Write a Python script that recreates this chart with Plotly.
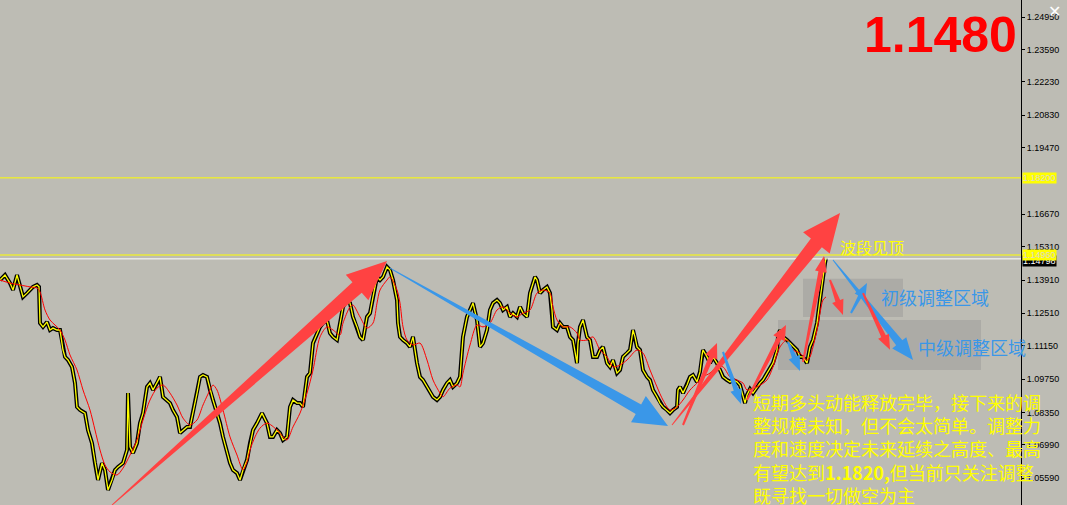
import plotly.graph_objects as go

# ---------------- data ----------------
bar_idx = [0,5,10,13,17,20,23,27,30,33,37,39,40,43,47,50,53,57,60,63,65,68,72,75,77,80,85,88,92,95,98,102,105,108,112,115,118,123,127,128,130,133,137,140,143,147,150,153,157,160,163,167,170,173,177,180,183,187,190,193,197,200,203,207,210,213,217,220,223,227,230,233,237,240,243,247,250,253,257,262,267,270,273,277,280,283,287,290,293,297,300,303,307,310,313,317,320,323,327,330,333,337,340,343,347,350,353,357,360,363,367,370,373,377,380,383,387,390,393,397,398,400,403,407,410,413,417,420,423,427,430,433,437,440,443,447,450,453,457,460,462,463,467,470,473,477,480,483,487,490,493,497,500,503,507,510,513,517,520,523,527,530,533,535,537,540,543,547,550,552,553,557,560,563,567,570,573,577,578,580,583,587,590,593,597,600,603,607,610,613,617,620,623,627,630,633,635,637,640,643,647,650,653,657,660,663,667,670,673,677,678,680,683,687,690,693,697,700,702,703,707,710,713,717,720,723,727,730,733,737,740,743,745,747,750,753,757,760,763,767,770,773,777,778,780,783,787,790,793,797,800,803,807,808,810,813,817,820,822,823,825,826]
close = [1.1391,1.1412,1.1378,1.1349,1.1412,1.1362,1.1320,1.1336,1.1349,1.1362,1.1370,1.1362,1.1210,1.1194,1.1215,1.1181,1.1189,1.1181,1.1181,1.1097,1.1068,1.1055,1.1026,1.0958,1.0858,1.0845,1.0832,1.0761,1.0706,1.0622,1.0551,1.0622,1.0593,1.0509,1.0551,1.0593,1.0606,1.0622,1.0677,1.0916,1.0690,1.0664,1.0706,1.0790,1.0832,1.0942,1.0958,1.0929,1.0958,1.0984,1.0900,1.0887,1.0874,1.0845,1.0816,1.0748,1.0761,1.0774,1.0774,1.0832,1.0916,1.0984,1.0992,1.0984,1.0929,1.0887,1.0832,1.0790,1.0732,1.0664,1.0622,1.0593,1.0580,1.0551,1.0593,1.0635,1.0706,1.0761,1.0790,1.0832,1.0790,1.0732,1.0732,1.0761,1.0748,1.0719,1.0732,1.0858,1.0887,1.0874,1.0874,1.0858,1.0984,1.1000,1.1126,1.1168,1.1194,1.1210,1.1223,1.1168,1.1152,1.1139,1.1210,1.1278,1.1307,1.1294,1.1236,1.1194,1.1152,1.1139,1.1236,1.1252,1.1320,1.1404,1.1391,1.1404,1.1446,1.1433,1.1391,1.1307,1.1210,1.1152,1.1139,1.1126,1.1110,1.1152,1.1042,1.0984,1.0971,1.0942,1.0916,1.0900,1.0887,1.0900,1.0929,1.0958,1.0971,1.0942,1.0958,1.0984,1.1097,1.1152,1.1236,1.1265,1.1294,1.1223,1.1110,1.1126,1.1181,1.1265,1.1294,1.1307,1.1294,1.1265,1.1278,1.1236,1.1252,1.1236,1.1278,1.1252,1.1236,1.1336,1.1378,1.1404,1.1391,1.1336,1.1349,1.1362,1.1336,1.1265,1.1194,1.1181,1.1210,1.1194,1.1194,1.1152,1.1139,1.1042,1.1126,1.1194,1.1223,1.1152,1.1139,1.1068,1.1068,1.1097,1.1110,1.1042,1.1026,1.1055,1.1000,1.1013,1.1068,1.1084,1.1097,1.1181,1.1152,1.1110,1.1097,1.1013,1.0984,1.0971,1.0929,1.0900,1.0874,1.0858,1.0845,1.0832,1.0845,1.0858,1.0929,1.0942,1.0916,1.0950,1.0984,1.0992,1.0963,1.1005,1.1076,1.1097,1.1068,1.1042,1.1068,1.1042,1.1013,1.0984,1.0971,1.0963,1.0971,1.0963,1.0950,1.0900,1.0874,1.0908,1.0933,1.0916,1.0942,1.0958,1.0971,1.1000,1.1026,1.1042,1.1097,1.1152,1.1181,1.1152,1.1139,1.1126,1.1110,1.1097,1.1068,1.1068,1.1042,1.1068,1.1110,1.1139,1.1210,1.1307,1.1378,1.1391,1.1462,1.1483]

ma_idx = [0,10,20,30,37,40,45,50,55,60,65,70,77,83,90,95,100,105,110,117,123,130,137,143,150,157,163,170,177,183,190,197,203,210,213,217,223,230,237,243,247,250,255,260,267,277,283,287,293,300,307,313,320,327,333,340,343,350,353,360,367,373,377,380,387,390,397,400,403,407,413,420,427,433,440,443,450,457,460,463,470,477,483,490,497,503,510,517,523,530,537,543,550,553,557,563,570,577,580,587,593,600,607,613,620,627,637,643,650,657,663,670,677,683,690,697,703,710,717,723,730,737,743,747,757,767,773,780,787,793,800,807,810,813,817,820,823,826]
ma_val = [1.1391,1.1378,1.1370,1.1362,1.1357,1.1341,1.1265,1.1223,1.1202,1.1181,1.1139,1.1076,1.1013,1.0929,1.0845,1.0761,1.0677,1.0614,1.0585,1.0572,1.0601,1.0656,1.0719,1.0803,1.0887,1.0937,1.0950,1.0916,1.0866,1.0811,1.0782,1.0803,1.0866,1.0929,1.0950,1.0929,1.0845,1.0732,1.0656,1.0593,1.0627,1.0677,1.0732,1.0769,1.0790,1.0761,1.0732,1.0719,1.0774,1.0832,1.0916,1.1013,1.1152,1.1194,1.1181,1.1160,1.1210,1.1278,1.1286,1.1236,1.1189,1.1210,1.1294,1.1349,1.1391,1.1404,1.1349,1.1294,1.1194,1.1139,1.1118,1.1126,1.1055,1.0971,1.0916,1.0900,1.0937,1.0950,1.0942,1.1000,1.1118,1.1202,1.1194,1.1210,1.1265,1.1278,1.1252,1.1236,1.1252,1.1265,1.1336,1.1349,1.1336,1.1278,1.1223,1.1194,1.1194,1.1168,1.1139,1.1139,1.1152,1.1097,1.1068,1.1026,1.1034,1.1055,1.1097,1.1084,1.1013,1.0942,1.0887,1.0845,1.0858,1.0887,1.0929,1.0958,1.0984,1.1000,1.1026,1.1026,1.0984,1.0971,1.0958,1.0929,1.0942,1.0971,1.1026,1.1110,1.1139,1.1097,1.1084,1.1055,1.1068,1.1110,1.1181,1.1252,1.1307,1.1320]

tick_vals = [1.2495,1.2359,1.2223,1.2083,1.1947,1.1667,1.1531,1.1391,1.1251,1.1115,1.0975,1.0835,1.0699,1.0559]
tick_text = ["%.5f" % v for v in tick_vals]
target_level = 1.1820
top_level = 1.1496
last_price = 1.14798
big_label = "1.1480"

# ---------------- layout constants ----------------
W, H = 1067, 505
MR = 46
X_RANGE = [0, 1021]
Y_RANGE = [1.0446, 1.2567]
BG = "#BDBCB4"
RED = "#FF4242"
BLUE = "#3A97E8"
YEL = "#FFFF00"

plot_w = W - MR
sx = plot_w / (X_RANGE[1] - X_RANGE[0])
sy = H / (Y_RANGE[1] - Y_RANGE[0])


def arrow_path(x0, p0, x1, p1, w0, w1, hw, hl):
    X0, Y0 = x0 * sx, p0 * sy
    X1, Y1 = x1 * sx, p1 * sy
    dx, dy = X1 - X0, Y1 - Y0
    L = (dx * dx + dy * dy) ** 0.5
    ux, uy = dx / L, dy / L
    nx, ny = -uy, ux
    bx, by = X1 - ux * hl, Y1 - uy * hl
    pts = [
        (X0 + nx * w0 / 2, Y0 + ny * w0 / 2),
        (bx + nx * w1 / 2, by + ny * w1 / 2),
        (bx + nx * hw / 2, by + ny * hw / 2),
        (X1, Y1),
        (bx - nx * hw / 2, by - ny * hw / 2),
        (bx - nx * w1 / 2, by - ny * w1 / 2),
        (X0 - nx * w0 / 2, Y0 - ny * w0 / 2),
    ]
    return "M " + " L ".join("%.4f,%.6f" % (X / sx, Y / sy) for X, Y in pts) + " Z"


fig = go.Figure()

# black bar body and yellow close line
fig.add_trace(go.Scatter(x=bar_idx, y=close, mode="lines",
                         line=dict(color="black", width=4), hoverinfo="skip"))
fig.add_trace(go.Scatter(x=bar_idx, y=close, mode="lines",
                         line=dict(color=YEL, width=1.3), hoverinfo="skip"))
fig.add_trace(go.Scatter(x=ma_idx, y=ma_val, mode="lines",
                         line=dict(color="#FF0000", width=1, shape="spline", smoothing=0.8),
                         hoverinfo="skip"))

shapes = []
# adjustment zones
shapes.append(dict(type="rect", xref="x", yref="y", x0=803, x1=903, y0=1.1236, y1=1.1396,
                   fillcolor="rgba(140,140,140,0.35)", line=dict(width=0), layer="below"))
shapes.append(dict(type="rect", xref="x", yref="y", x0=778, x1=981, y0=1.1013, y1=1.1223,
                   fillcolor="rgba(140,140,140,0.35)", line=dict(width=0), layer="below"))
# horizontal levels
shapes.append(dict(type="line", xref="paper", yref="y", x0=0, x1=1, y0=target_level, y1=target_level,
                   line=dict(color=YEL, width=1)))
shapes.append(dict(type="line", xref="paper", yref="y", x0=0, x1=1, y0=top_level, y1=top_level,
                   line=dict(color=YEL, width=1)))
shapes.append(dict(type="line", xref="paper", yref="y", x0=0, x1=1, y0=last_price, y1=last_price,
                   line=dict(color="white", width=1)))

# drawn arrows (bar index, price)
arrows = [
    (112, 1.0446, 387, 1.1471, 1, 14, 34, 40, RED),
    (390, 1.1441, 668, 1.0778, 1, 11, 30, 34, BLUE),
    (672, 1.0782, 840, 1.1672, 1, 14, 34, 38, RED),
    (683, 1.0782, 717, 1.1126, 2, 5, 13, 15, RED),
    (747, 1.0887, 786, 1.1202, 2, 5, 13, 15, RED),
    (803, 1.1047, 824, 1.1492, 2, 5, 12, 16, RED),
    (723, 1.1089, 741, 1.0870, 2, 5, 12, 15, BLUE),
    (788, 1.1131, 800, 1.1009, 2, 5, 12, 15, BLUE),
    (830, 1.1391, 843, 1.1244, 2, 5, 12, 15, RED),
    (833, 1.1475, 913, 1.1055, 1, 8, 18, 22, BLUE),
    (851, 1.1252, 867, 1.1378, 2, 4, 12, 15, BLUE),
    (863, 1.1336, 890, 1.1098, 2, 5, 12, 15, RED),
]
for x0, p0, x1, p1, w0, w1, hw, hl, col in arrows:
    shapes.append(dict(type="path", xref="x", yref="y", path=arrow_path(x0, p0, x1, p1, w0, w1, hw, hl),
                       fillcolor=col, line=dict(width=0)))

annotations = []
CJK = "Noto Sans CJK SC"
annotations.append(dict(x=940, y=1.2420, xref="x", yref="y", text="<b>" + big_label + "</b>",
                        showarrow=False, font=dict(family="Liberation Sans, Arial", size=50, color="#FF0000")))
annotations.append(dict(x=838, y=1.1530, xref="x", yref="y", xanchor="left", text="波段见顶",
                        showarrow=False, font=dict(family=CJK, size=16, color=YEL)))
annotations.append(dict(x=879, y=1.1320, xref="x", yref="y", xanchor="left", text="初级调整区域",
                        showarrow=False, font=dict(family=CJK, size=18, color=BLUE)))
annotations.append(dict(x=916, y=1.1110, xref="x", yref="y", xanchor="left", text="中级调整区域",
                        showarrow=False, font=dict(family=CJK, size=18, color=BLUE)))
lines = [
    "短期多头动能释放完毕，接下来的调",
    "整规模未知，但不会太简单。调整力",
    "度和速度决定未来延续之高度、最高",
    "有望达到<b>1.1820,</b>但当前只关注调整",
    "既寻找一切做空为主",
]
line_y = [1.0879, 1.0782, 1.0686, 1.0585, 1.0488]
for t, yy in zip(lines, line_y):
    annotations.append(dict(x=751, y=yy, xref="x", yref="y", xanchor="left", text=t,
                            showarrow=False, font=dict(family=CJK, size=18, color=YEL)))

# price labels on the axis
annotations.append(dict(x=1, y=last_price, xref="paper", yref="y", xanchor="left", xshift=1, yshift=-2,
                        text="1.14798", showarrow=False, bgcolor="black", borderpad=0,
                        font=dict(family="Liberation Sans", size=9, color="white")))
annotations.append(dict(x=1, y=top_level, xref="paper", yref="y", xanchor="left", xshift=1,
                        text="1.14960", showarrow=False, bgcolor=YEL, borderpad=0,
                        font=dict(family="Liberation Sans", size=9, color="#D8D8C8")))
annotations.append(dict(x=1, y=target_level, xref="paper", yref="y", xanchor="left", xshift=1,
                        text="1.18200", showarrow=False, bgcolor=YEL, borderpad=0,
                        font=dict(family="Liberation Sans", size=9, color="#D8D8C8")))
annotations.append(dict(x=1, y=1.2517, xref="paper", yref="y", xanchor="left", xshift=25,
                        text="✕", showarrow=False,
                        font=dict(family="DejaVu Sans", size=16, color="white")))

fig.update_layout(
    width=W, height=H,
    margin=dict(l=0, r=MR, t=0, b=0),
    paper_bgcolor=BG, plot_bgcolor=BG,
    showlegend=False,
    shapes=shapes,
    annotations=annotations,
    xaxis=dict(range=X_RANGE, visible=False, fixedrange=True),
    yaxis=dict(range=Y_RANGE, side="right", showgrid=False, zeroline=False,
               showline=True, linecolor="black", linewidth=1,
               ticks="outside", ticklen=3, tickcolor="black",
               tickvals=tick_vals, ticktext=tick_text,
               tickfont=dict(family="Liberation Sans", size=9, color="black")),
)

fig.write_html("out.html", config={"displayModeBar": False},
               post_script="document.body.style.margin='0';document.body.style.overflow='hidden';")
